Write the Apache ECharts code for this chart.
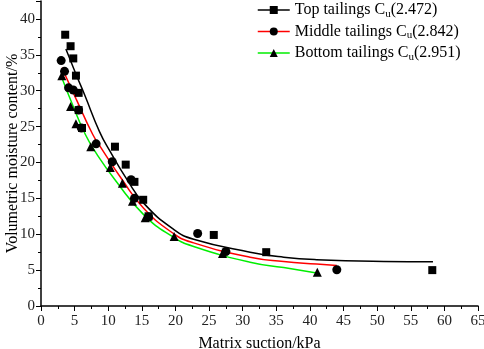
<!DOCTYPE html>
<html>
<head>
<meta charset="utf-8">
<script src="https://cdn.jsdelivr.net/npm/echarts@6/dist/echarts.min.js"></script>
<style>
  html, body { margin: 0; padding: 0; background: #fff; }
  #chart { width: 484px; height: 349px; }
</style>
</head>
<body>
<div id="chart"></div>
<script>
// measured points [suction kPa, moisture %]
var topPoints = [[3.6,37.8],[4.4,36.2],[4.8,34.5],[5.2,32.1],[5.6,29.7],[5.6,27.3],[6.1,24.8],
  [11.0,22.2],[12.6,19.7],[13.9,17.3],[15.2,14.8],[16.0,12.5],[25.7,9.9],[33.5,7.5],[58.2,5.0]];
var middlePoints = [[3.0,34.2],[3.5,32.7],[4.1,30.4],[4.8,30.1],[5.6,27.3],[6.0,24.8],[8.2,22.6],
  [10.6,20.1],[13.4,17.6],[13.9,15.0],[16.0,12.4],[23.3,10.1],[27.5,7.6],[44.0,5.05]];
var bottomPoints = [[3.1,32.1],[4.4,27.8],[5.2,25.4],[7.4,22.2],[10.3,19.3],[12.1,17.1],
  [13.6,14.6],[15.5,12.3],[19.8,9.7],[27.0,7.3],[41.1,4.7]];

// fitted curves
var topCurve = [[3.7,35.8],[5.25,32.2],[6.5,29.4],[8.7,24.3],[10.3,21.5],[12.8,17.6],
  [15.3,14.3],[19.7,10.7],[22.7,9.3],[31.1,7.5],[36.1,6.8],[41,6.45],[51,6.2],[58.3,6.15]];
var middleCurve = [[3.1,33.2],[5.2,28.9],[7.7,23.9],[9.1,21.8],[12,17.7],[15.3,13.6],[19.7,10.1],
  [22.7,8.8],[31.1,6.8],[36.1,6.2],[41,5.85],[44,5.65]];
var bottomCurve = [[3.1,31.8],[4.8,27.8],[6.6,23.9],[8.2,21.3],[11,17.6],[15.3,12.7],[19.7,9.6],
  [22.7,8.3],[31.1,6.1],[36.1,5.35],[41,4.6]];

var names = ['Top tailings', 'Middle tailings', 'Bottom tailings'];
var cuValues = ['2.472', '2.842', '2.951'];
var lineColors = ['#000000', '#ff0000', '#00ee00'];
var symbols = ['rect', 'circle', 'triangle'];

var font = 'Liberation Serif';
var chart = echarts.init(document.getElementById('chart'));

var curves = [topCurve, middleCurve, bottomCurve];
var points = [topPoints, middlePoints, bottomPoints];
var series = [];
for (var i = 0; i < 3; i++) {
  series.push({
    name: names[i],
    type: 'line',
    data: curves[i],
    smooth: true,
    symbol: symbols[i],
    showSymbol: false,
    lineStyle: { color: lineColors[i], width: 1.5 },
    itemStyle: { color: lineColors[i] },
    z: 2
  });
}
for (var j = 0; j < 3; j++) {
  series.push({
    name: names[j] + ' data',
    type: 'scatter',
    data: points[j],
    symbol: symbols[j],
    symbolSize: j === 0 ? 8 : 9,
    itemStyle: { color: '#000', opacity: 1 },
    z: 3
  });
}

chart.setOption({
  animation: false,
  grid: { left: 41, right: 6, top: 1, bottom: 43, containLabel: false, outerBoundsMode: 'none' },
  legend: {
    left: 252,
    top: -3,
    orient: 'vertical',
    itemWidth: 32,
    itemHeight: 10,
    itemGap: 4,
    data: names.map(function (n, k) {
      return { name: n, itemStyle: { color: '#000' }, lineStyle: { color: lineColors[k], width: 1.5 } };
    }),
    formatter: function (n) {
      var k = names.indexOf(n);
      return n + ' C{sub|u}(' + cuValues[k] + ')';
    },
    textStyle: {
      fontFamily: font, fontSize: 16, color: '#000',
      rich: { sub: { fontFamily: font, fontSize: 11, color: '#000', verticalAlign: 'bottom', padding: [8, 0, 0, 0] } }
    }
  },
  xAxis: {
    type: 'value',
    min: 0, max: 65, interval: 5,
    name: 'Matrix suction/kPa',
    nameLocation: 'middle',
    nameGap: 30,
    nameTextStyle: { fontFamily: font, fontSize: 16, color: '#000' },
    axisLine: { lineStyle: { color: '#000', width: 1.5 } },
    axisTick: { length: 5, lineStyle: { color: '#000' } },
    minorTick: { show: true, splitNumber: 2, length: 3, lineStyle: { color: '#000' } },
    axisLabel: { fontFamily: font, fontSize: 15, color: '#222', margin: 8 },
    splitLine: { show: false }
  },
  yAxis: {
    type: 'value',
    min: 0, max: 42.5, interval: 5,
    name: 'Volumetric moisture content/%',
    nameLocation: 'middle',
    nameGap: 20,
    nameMoveOverlap: false,
    nameTextStyle: { fontFamily: font, fontSize: 16, color: '#000' },
    axisLine: { show: true, lineStyle: { color: '#000', width: 1.5 } },
    axisTick: { show: true, length: 5, lineStyle: { color: '#000' } },
    minorTick: { show: true, splitNumber: 2, length: 3, lineStyle: { color: '#000' } },
    axisLabel: {
      fontFamily: font, fontSize: 15, color: '#222', margin: 6,
      formatter: function (v) { return v % 5 === 0 ? String(v) : ''; }
    },
    splitLine: { show: false }
  },
  series: series
});
</script>
</body>
</html>
